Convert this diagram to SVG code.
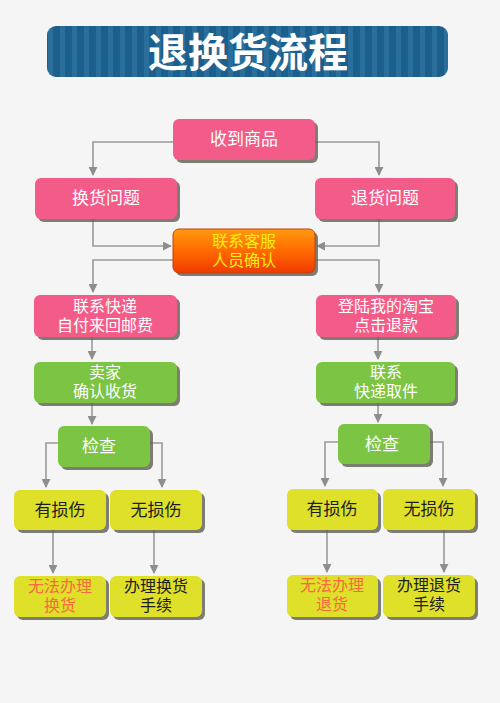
<svg xmlns="http://www.w3.org/2000/svg" width="500" height="703" viewBox="0 0 500 703">
<defs>
<pattern id="stripes" x="0" y="0" width="12" height="10" patternUnits="userSpaceOnUse">
<rect width="12" height="10" fill="#1c5f8c"/>
<rect x="0" width="5" height="10" fill="#2a6f9c"/>
</pattern>
<linearGradient id="orange" x1="0" y1="0" x2="0" y2="1">
<stop offset="0" stop-color="#ff9a10"/>
<stop offset="0.5" stop-color="#ff6a00"/>
<stop offset="1" stop-color="#f03a00"/>
</linearGradient>
<marker id="arr" viewBox="0 0 10 10" refX="9" refY="5" markerWidth="9" markerHeight="9" markerUnits="userSpaceOnUse" orient="auto">
<path d="M0,0 L10,5 L0,10 z" fill="#8e8e8e"/>
</marker>
</defs>
<style>
.sh{fill:#5f5f50;opacity:0.8}
.pink{fill:#f35c88}
.green{fill:#7cc443}
.yel{fill:#dfe02a}
.t{font-family:"Liberation Sans","Noto Sans CJK SC",sans-serif;font-size:16px;text-anchor:middle}
.s{font-size:17px}
.w{fill:#ffffff}
.k{fill:#1e1e1e}
.r{fill:#f86a40}
.y{fill:#ffee10}
.c{fill:none;stroke:#9a9a9a;stroke-width:1.6}
</style>
<rect width="500" height="703" fill="#f5f5f5"/>

<g id="title">
<rect x="47" y="26" width="401" height="51" rx="9" fill="url(#stripes)"/>
<text x="248" y="67" font-family="'Liberation Sans','Noto Sans CJK SC',sans-serif" font-weight="bold" font-size="40" fill="#ffffff" text-anchor="middle">退换货流程</text>
</g>

<g id="connectors">
<path class="c" d="M173,142 H93 V175" marker-end="url(#arr)"/>
<path class="c" d="M315,142 H379 V175" marker-end="url(#arr)"/>
<path class="c" d="M93,219 V246 H171" marker-end="url(#arr)"/>
<path class="c" d="M379,219 V246 H317" marker-end="url(#arr)"/>
<path class="c" d="M173,260 H93 V292" marker-end="url(#arr)"/>
<path class="c" d="M315,260 H379 V292" marker-end="url(#arr)"/>
<path class="c" d="M92,337 V359" marker-end="url(#arr)"/>
<path class="c" d="M378,337 V359" marker-end="url(#arr)"/>
<path class="c" d="M92,403 V424" marker-end="url(#arr)"/>
<path class="c" d="M378,403 V422" marker-end="url(#arr)"/>
<path class="c" d="M58,443 H46 V487" marker-end="url(#arr)"/>
<path class="c" d="M150,443 H162 V487" marker-end="url(#arr)"/>
<path class="c" d="M338,442 H325 V486" marker-end="url(#arr)"/>
<path class="c" d="M430,442 H443 V486" marker-end="url(#arr)"/>
<path class="c" d="M53,530 V573" marker-end="url(#arr)"/>
<path class="c" d="M154,530 V573" marker-end="url(#arr)"/>
<path class="c" d="M327,530 V572" marker-end="url(#arr)"/>
<path class="c" d="M444,530 V572" marker-end="url(#arr)"/>
</g>

<g id="n-receive">
<rect class="sh" x="176" y="122" width="142" height="41" rx="6"/>
<rect class="pink" x="173" y="119" width="142" height="41" rx="6"/>
<text class="t s w" x="244" y="145">收到商品</text>
</g>
<g id="n-exchange">
<rect class="sh" x="38" y="181" width="142" height="41" rx="6"/>
<rect class="pink" x="35" y="178" width="142" height="41" rx="6"/>
<text class="t s w" x="106" y="204">换货问题</text>
</g>
<g id="n-return">
<rect class="sh" x="318" y="181" width="140" height="41" rx="6"/>
<rect class="pink" x="315" y="178" width="140" height="41" rx="6"/>
<text class="t s w" x="385" y="204">退货问题</text>
</g>
<g id="n-service">
<rect class="sh" x="176" y="232" width="142" height="44" rx="6"/>
<rect x="173" y="229" width="142" height="44" rx="6" fill="url(#orange)" stroke="#c04010" stroke-width="1"/>
<text class="t y" x="244" y="247">联系客服</text>
<text class="t y" x="244" y="266">人员确认</text>
</g>
<g id="n-courier">
<rect class="sh" x="37" y="298" width="143" height="42" rx="6"/>
<rect class="pink" x="34" y="295" width="143" height="42" rx="6"/>
<text class="t w" x="105" y="312">联系快递</text>
<text class="t w" x="105" y="331">自付来回邮费</text>
</g>
<g id="n-taobao">
<rect class="sh" x="319" y="298" width="140" height="42" rx="6"/>
<rect class="pink" x="316" y="295" width="140" height="42" rx="6"/>
<text class="t w" x="386" y="312">登陆我的淘宝</text>
<text class="t w" x="386" y="331">点击退款</text>
</g>
<g id="n-seller">
<rect class="sh" x="37" y="365" width="143" height="41" rx="6"/>
<rect class="green" x="34" y="362" width="143" height="41" rx="6"/>
<text class="t w" x="105" y="378">卖家</text>
<text class="t w" x="105" y="397">确认收货</text>
</g>
<g id="n-pickup">
<rect class="sh" x="319" y="365" width="139" height="41" rx="6"/>
<rect class="green" x="316" y="362" width="139" height="41" rx="6"/>
<text class="t w" x="386" y="378">联系</text>
<text class="t w" x="386" y="397">快递取件</text>
</g>
<g id="n-check-l">
<rect class="sh" x="61" y="429" width="92" height="41" rx="6"/>
<rect class="green" x="58" y="426" width="92" height="41" rx="6"/>
<text class="t s w" x="99" y="452">检查</text>
</g>
<g id="n-check-r">
<rect class="sh" x="341" y="427" width="92" height="40" rx="6"/>
<rect class="green" x="338" y="424" width="92" height="40" rx="6"/>
<text class="t s w" x="382" y="450">检查</text>
</g>
<g id="n-dmg-l">
<rect class="sh" x="17" y="493" width="92" height="40" rx="6"/>
<rect class="yel" x="14" y="490" width="92" height="40" rx="6"/>
<text class="t s k" x="60" y="516">有损伤</text>
</g>
<g id="n-nodmg-l">
<rect class="sh" x="113" y="493" width="92" height="40" rx="6"/>
<rect class="yel" x="110" y="490" width="92" height="40" rx="6"/>
<text class="t s k" x="156" y="516">无损伤</text>
</g>
<g id="n-dmg-r">
<rect class="sh" x="290" y="492" width="91" height="41" rx="6"/>
<rect class="yel" x="287" y="489" width="91" height="41" rx="6"/>
<text class="t s k" x="332" y="515">有损伤</text>
</g>
<g id="n-nodmg-r">
<rect class="sh" x="386" y="492" width="92" height="41" rx="6"/>
<rect class="yel" x="383" y="489" width="92" height="41" rx="6"/>
<text class="t s k" x="429" y="515">无损伤</text>
</g>
<g id="n-cannot-ex">
<rect class="sh" x="17" y="579" width="92" height="41" rx="6"/>
<rect class="yel" x="14" y="576" width="92" height="41" rx="6"/>
<text class="t r" x="60" y="592">无法办理</text>
<text class="t r" x="60" y="611">换货</text>
</g>
<g id="n-do-ex">
<rect class="sh" x="113" y="579" width="92" height="41" rx="6"/>
<rect class="yel" x="110" y="576" width="92" height="41" rx="6"/>
<text class="t k" x="156" y="592">办理换货</text>
<text class="t k" x="156" y="611">手续</text>
</g>
<g id="n-cannot-ret">
<rect class="sh" x="290" y="578" width="91" height="42" rx="6"/>
<rect class="yel" x="287" y="575" width="91" height="42" rx="6"/>
<text class="t r" x="332" y="591">无法办理</text>
<text class="t r" x="332" y="610">退货</text>
</g>
<g id="n-do-ret">
<rect class="sh" x="386" y="578" width="92" height="42" rx="6"/>
<rect class="yel" x="383" y="575" width="92" height="42" rx="6"/>
<text class="t k" x="429" y="591">办理退货</text>
<text class="t k" x="429" y="610">手续</text>
</g>
</svg>
